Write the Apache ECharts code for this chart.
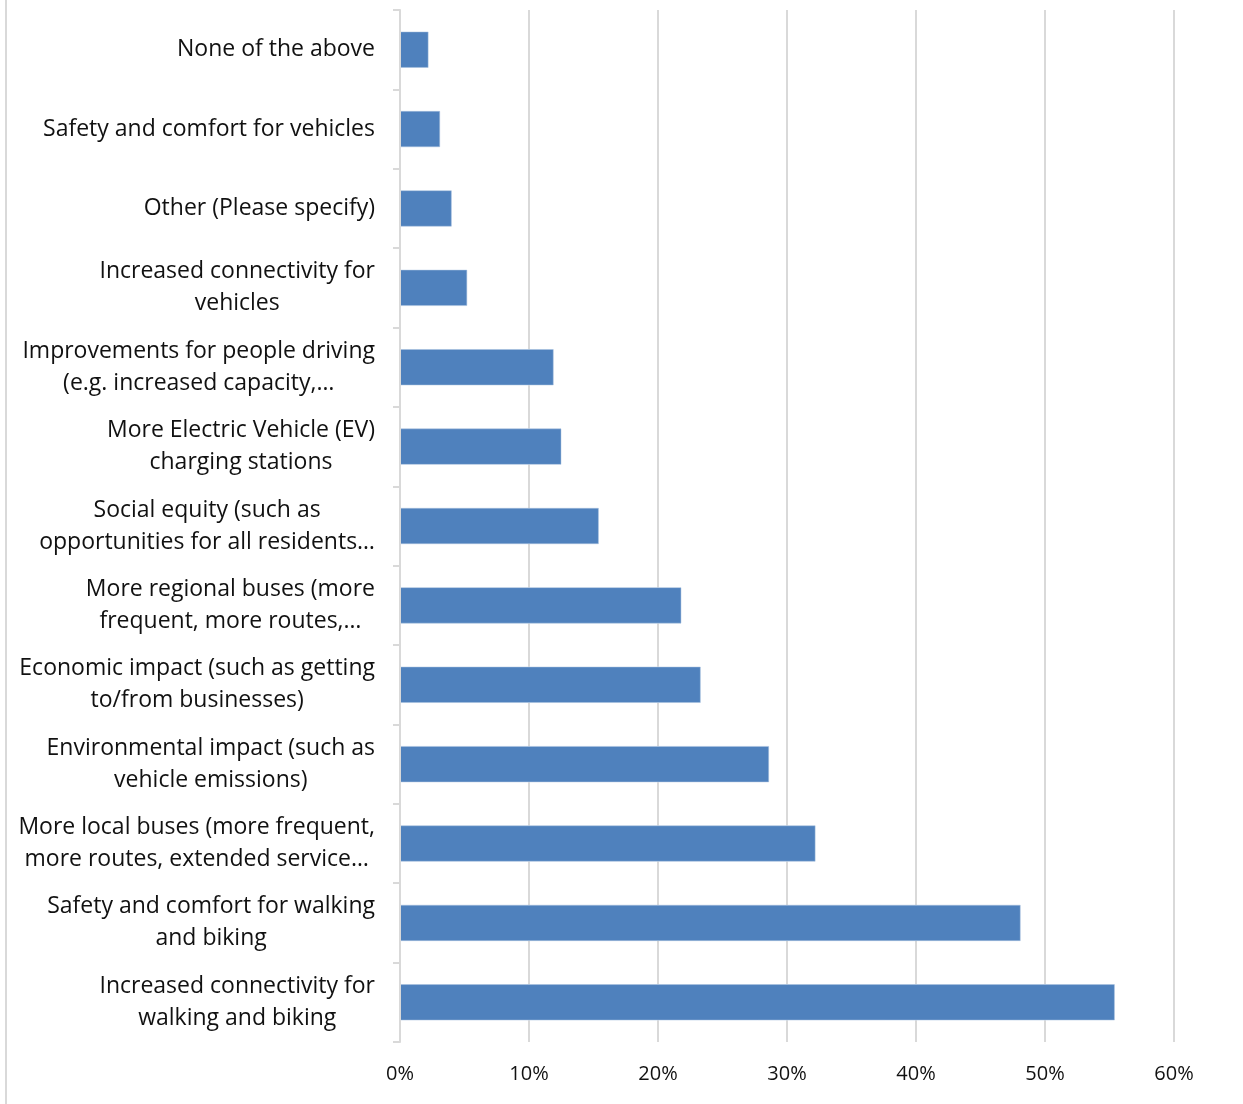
<!DOCTYPE html>
<html>
<head>
<meta charset="utf-8">
<script src="https://cdn.jsdelivr.net/npm/echarts@6/dist/echarts.min.js"></script>
<style>
html,body{margin:0;padding:0;background:#fff;}
#chart{width:1243px;height:1104px;}
</style>
</head>
<body>
<div id="chart"></div>
<script>
// Categories, top to bottom as displayed
const categories = [
  "None of the above",
  "Safety and comfort for vehicles",
  "Other (Please specify)",
  "Increased connectivity for\nvehicles",
  "Improvements for people driving\n(e.g. increased capacity,…",
  "More Electric Vehicle (EV)\ncharging stations",
  "Social equity (such as\nopportunities for all residents…",
  "More regional buses (more\nfrequent, more routes,…",
  "Economic impact (such as getting\nto/from businesses)",
  "Environmental impact (such as\nvehicle emissions)",
  "More local buses (more frequent,\nmore routes, extended service…",
  "Safety and comfort for walking\nand biking",
  "Increased connectivity for\nwalking and biking"
];
// Percent of respondents
const values = [2.2, 3.1, 4.0, 5.2, 11.9, 12.5, 15.4, 21.8, 23.3, 28.6, 32.2, 48.1, 55.4];
const xTicks = [0, 10, 20, 30, 40, 50, 60];

const FONT = 'Open Sans';
const chart = echarts.init(document.getElementById('chart'), null, {renderer: 'canvas'});
chart.setOption({
  animation: false,
  backgroundColor: '#fff',
  grid: {left: 400, right: 69, top: 10, bottom: 62, containLabel: false},
  xAxis: {
    type: 'value',
    min: xTicks[0],
    max: xTicks[xTicks.length - 1],
    interval: xTicks[1] - xTicks[0],
    z: 0,
    axisLine: {show: false},
    axisTick: {show: false},
    splitLine: {show: true, lineStyle: {color: '#d9d9d9', width: 2}},
    axisLabel: {
      formatter: '{value}%',
      margin: 22,
      color: '#111',
      fontFamily: FONT,
      fontSize: 20
    }
  },
  yAxis: {
    type: 'category',
    data: categories,
    inverse: true,
    z: 5,
    axisLine: {show: true, lineStyle: {color: '#d9d9d9', width: 2}},
    axisTick: {show: true, length: 7, lineStyle: {color: '#d9d9d9', width: 2}},
    splitLine: {show: false},
    axisLabel: {
      margin: 25,
      interval: 0,
      align: 'right',
      formatter: function (v) {
        return v.split('\n').map(function (s) { return '{c|' + s + '}'; }).join('\n');
      },
      rich: {
        c: {
          align: 'center',
          fontFamily: FONT,
          fontSize: 23,
          lineHeight: 32,
          color: '#111'
        }
      }
    }
  },
  graphic: [{
    type: 'line',
    shape: {x1: 6, y1: 0, x2: 6, y2: 1104},
    style: {stroke: '#d9d9d9', lineWidth: 2},
    silent: true
  }],
  series: [
    {
      type: 'bar',
      data: values,
      barWidth: 36,
      silent: true,
      itemStyle: {color: '#fff', borderColor: '#fff', borderWidth: 8}
    },
    {
      type: 'bar',
      data: values,
      barWidth: 36,
      barGap: '-100%',
      itemStyle: {color: '#4f81bd', borderColor: '#a8c0de', borderWidth: 0.5}
    }
  ]
});
</script>
</body>
</html>
